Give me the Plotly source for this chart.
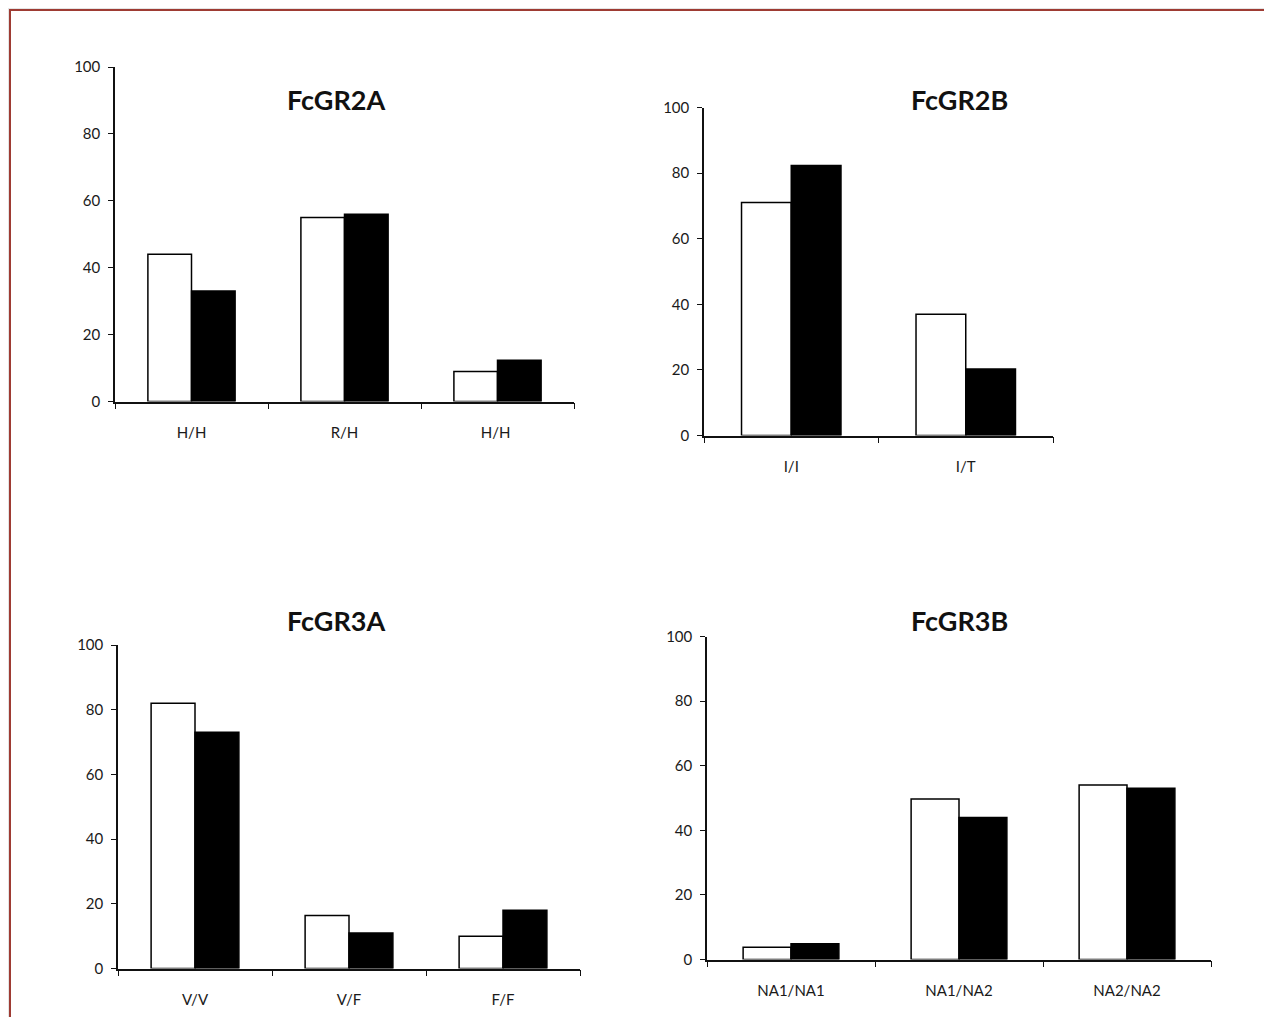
import plotly.graph_objects as go

W, H = 1272, 1017
OFF = 8  # page body margin compensation (pixels)

# ---- data ----
titles = ["FcGR2A", "FcGR2B", "FcGR3A", "FcGR3B"]
cats_2a = ["H/H", "R/H", "H/H "]
white_2a = [44, 55, 9]
black_2a = [33, 56, 12.3]

cats_2b = ["I/I", "I/T"]
white_2b = [71, 37]
black_2b = [82.3, 20.3]

cats_3a = ["V/V", "V/F", "F/F"]
white_3a = [82, 16.4, 10]
black_3a = [73, 11, 18]

cats_3b = ["NA1/NA1", "NA1/NA2", "NA2/NA2"]
white_3b = [3.8, 49.7, 54]
black_3b = [4.9, 44, 53]

y_ticks = [0, 20, 40, 60, 80, 100]

# ---- layout geometry (page pixels) ----
panels = [
    # cats, white, black, x0, x1, y0(zero), y100, title x, title y
    (cats_2a, white_2a, black_2a, 115, 574, 401.5, 67, 336, 100),
    (cats_2b, white_2b, black_2b, 704, 1053, 435.5, 107.5, 960, 100),
    (cats_3a, white_3a, black_3a, 118, 580, 968.5, 645, 336, 620),
    (cats_3b, white_3b, black_3b, 707, 1211, 959.5, 636.5, 960, 620),
]


def px(x):
    return (x - OFF) / W


def py(y):
    return 1 - (y - OFF) / H


fig = go.Figure()
TXT = "Lato, 'Open Sans', sans-serif"

for i, (cats, wv, bv, x0, x1, yz, yt, tx, ty) in enumerate(panels):
    n = i + 1
    xa = "x" if n == 1 else f"x{n}"
    ya = "y" if n == 1 else f"y{n}"
    fig.add_trace(go.Bar(x=cats, y=wv, xaxis=xa, yaxis=ya,
                         marker=dict(color="white", line=dict(color="black", width=1.5)),
                         showlegend=False))
    fig.add_trace(go.Bar(x=cats, y=bv, xaxis=xa, yaxis=ya,
                         marker=dict(color="black", line=dict(color="black", width=1.5)),
                         showlegend=False))
    xk = "xaxis" if n == 1 else f"xaxis{n}"
    yk = "yaxis" if n == 1 else f"yaxis{n}"
    fig.layout[xk] = dict(
        domain=[px(x0), px(x1)], anchor=ya, type="category", automargin=False,
        showline=True, linecolor="#111", linewidth=1.5,
        ticks="outside", tickson="boundaries", ticklen=6, tickwidth=1.3, tickcolor="#111",
        showgrid=False, zeroline=False, fixedrange=True,
        tickfont=dict(family=TXT, size=15, color="#1a1a1a"),
        ticklabelstandoff=17,
    )
    fig.layout[yk] = dict(
        domain=[py(yz), py(yt)], anchor=xa, range=[0, 100], automargin=False,
        tickvals=y_ticks, showline=True, linecolor="#111", linewidth=1.5,
        ticks="outside", ticklen=5, tickwidth=1.3, tickcolor="#111",
        showgrid=False, zeroline=False, fixedrange=True,
        tickfont=dict(family=TXT, size=15, color="#1a1a1a"),
        ticklabelstandoff=5,
    )
    fig.add_annotation(text=f"<b>{titles[i]}</b>", x=px(tx), y=py(ty),
                       xref="paper", yref="paper", showarrow=False,
                       xanchor="center", yanchor="middle",
                       font=dict(family=TXT, size=27, color="#111"))

# page frame
fig.add_shape(type="rect", xref="paper", yref="paper",
              x0=px(10), x1=1.05, y0=-0.05, y1=py(10),
              fillcolor="white", line=dict(color="#9e3b33", width=2), layer="below")

fig.update_layout(
    width=W, height=H, margin=dict(l=0, r=0, t=0, b=0, autoexpand=False),
    paper_bgcolor="#e4e4e4", plot_bgcolor="rgba(0,0,0,0)",
    barmode="group", bargap=0.43, bargroupgap=0,
)

fig.write_html("out.html")
